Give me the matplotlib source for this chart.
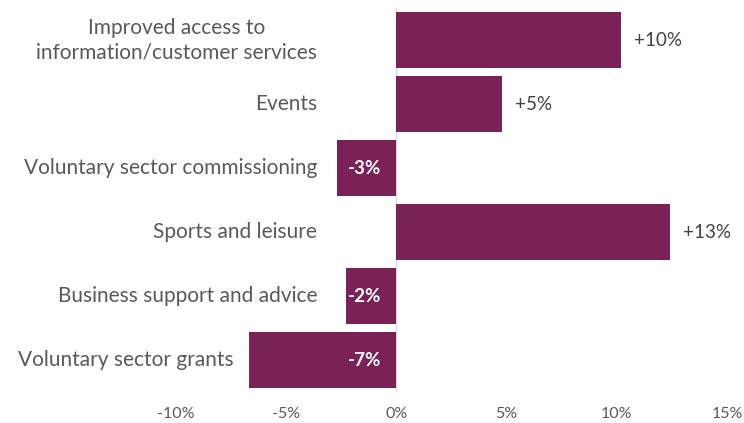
import matplotlib
matplotlib.use("Agg")
import matplotlib.pyplot as plt

categories = [
    "Improved access to\ninformation/customer services",
    "Events",
    "Voluntary sector commissioning",
    "Sports and leisure",
    "Business support and advice",
    "Voluntary sector grants",
]
values = [10.2, 4.8, -2.7, 12.4, -2.3, -6.7]
value_labels = ["+10%", "+5%", "-3%", "+13%", "-2%", "-7%"]
xticks = [-10, -5, 0, 5, 10, 15]
xtick_labels = ["-10%", "-5%", "0%", "5%", "10%", "15%"]

BAR = "#7A2157"
GREY = "#595959"
DARK = "#404040"
plt.rcParams["font.family"] = ["Lato", "DejaVu Sans"]

fig = plt.figure(figsize=(7.44, 4.23), dpi=100)
ax = fig.add_axes([176 / 744, 1 - 392 / 423, 551 / 744, 384 / 423])

ypos = list(range(len(categories)))
ax.barh(ypos, values, height=0.86, color=BAR, zorder=2)
ax.axvline(0, color="#D9D9D9", lw=1, zorder=1)

ax.set_xlim(-10, 15)
ax.set_ylim(len(categories) - 0.5, -0.5)
ax.set_xticks(xticks)
ax.set_xticklabels(xtick_labels, color=GREY, fontsize=11.5)
ax.tick_params(axis="x", length=0, pad=11)
ax.set_yticks([])
for s in ax.spines.values():
    s.set_visible(False)

for y, v, lab, cat in zip(ypos, values, value_labels, categories):
    if v >= 0:
        ax.text(v + 0.6, y, lab, ha="left", va="center", color=DARK, fontsize=13.5)
    else:
        ax.text(-1.45, y, lab, ha="center", va="center", color="white",
                fontsize=13.5, fontweight="bold")
    xl = min(-3.6, v - 0.7)
    ax.text(xl, y, cat, ha="right", va="center", color=GREY, fontsize=15,
            multialignment="center", linespacing=1.3)

fig.savefig("out.png", dpi=100)
